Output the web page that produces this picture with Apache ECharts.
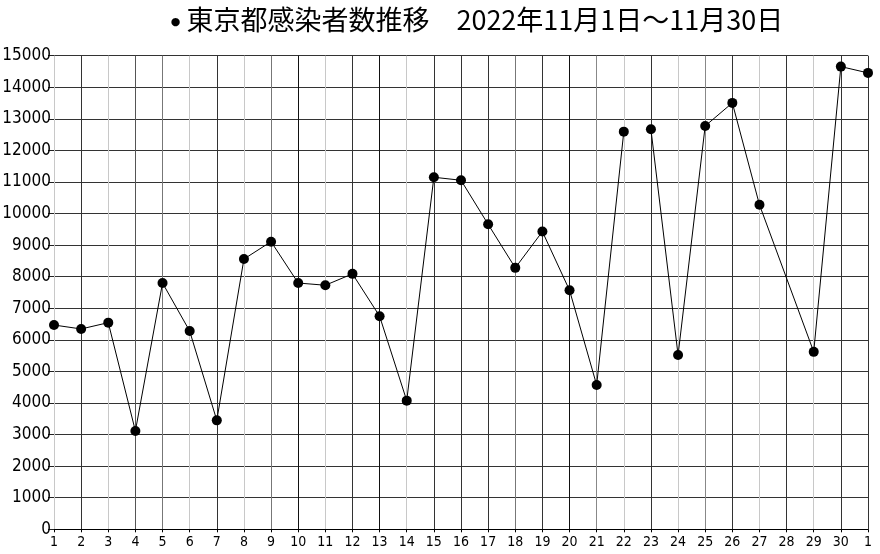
<!DOCTYPE html>
<html>
<head>
<meta charset="utf-8">
<script src="https://cdn.jsdelivr.net/npm/echarts@6/dist/echarts.min.js"></script>
<style>
html,body{margin:0;padding:0;background:#fff;}
#c{width:880px;height:554px;}
</style>
</head>
<body>
<div id="c"></div>
<script>
var titleMain = '東京都感染者数推移　2022年11月1日～11月30日';
var days = ['1','2','3','4','5','6','7','8','9','10','11','12','13','14','15','16','17','18','19','20','21','22','23','24','25','26','27','28','29','30','1'];
// daily cases; null = no mark
var cases = [6470,6345,6545,3115,7800,6280,3450,8560,9110,7800,7730,8090,6750,4075,11150,11055,9660,8280,9430,7570,4570,12595,12670,5520,12775,13505,10280,null,5620,14655,14455];
var yTicks = {min:0, max:15000, interval:1000};

// split into two runs (the line is broken between day 22 and day 23)
var runA = cases.map(function(v,i){ return i <= 21 ? v : null; });
var runB = cases.map(function(v,i){ return i >= 22 ? v : null; });

var vCols = ['#c8c8c8','#333','#c8c8c8','#555','#777','#c8c8c8','#333','#c8c8c8','#777','#111','#c8c8c8','#333','#111','#c8c8c8','#333',
             '#333','#333','#777','#333','#111','#888','#c8c8c8','#333','#c8c8c8','#888','#333','#c8c8c8','#333','#c8c8c8','#333','#333'];

var chart = echarts.init(document.getElementById('c'), null, {renderer:'canvas'});
var lineSeries = function(d){
  return {
    type:'line', data:d, connectNulls:true, symbol:'circle', symbolSize:10,
    itemStyle:{color:'#000'}, lineStyle:{color:'#000', width:1}, animation:false, z:5
  };
};
chart.setOption({
  animation:false,
  backgroundColor:'#fff',
  title:{
    text:'{b|●} ' + titleMain, left:472, textAlign:'center', top:1,
    textStyle:{fontFamily:'"Noto Sans CJK JP"', fontSize:27, fontWeight:'normal', color:'#000',
      rich:{b:{fontSize:11, fontFamily:'"DejaVu Sans"', color:'#000', padding:[6,0,0,0]}}}
  },
  grid:{left:54, right:12, top:55.7, bottom:24.7, containLabel:false, outerBoundsMode:'none'},
  xAxis:{
    type:'category', data:days, boundaryGap:false,
    axisLine:{show:true, lineStyle:{color:'#000', width:1}},
    axisTick:{show:true, alignWithLabel:true, length:3, lineStyle:{color:'#000'}},
    axisLabel:{interval:0, margin:6, fontSize:14, color:'#000', fontFamily:'"DejaVu Sans Condensed", "Liberation Sans Narrow", sans-serif'},
    splitLine:{show:true, interval:0, lineStyle:{color:vCols, width:1}}
  },
  yAxis:{
    type:'value', min:yTicks.min, max:yTicks.max, interval:yTicks.interval,
    axisLine:{show:false},
    axisTick:{show:true, length:6, lineStyle:{color:'#222'}},
    axisLabel:{margin:3, fontSize:17, color:'#000', fontFamily:'"Liberation Sans Narrow", "DejaVu Sans Condensed", sans-serif',
      formatter:function(v){ return String(v); }},
    splitLine:{show:true, lineStyle:{color:'#333', width:1}}
  },
  series:[lineSeries(runA), lineSeries(runB)]
});
</script>
</body>
</html>
